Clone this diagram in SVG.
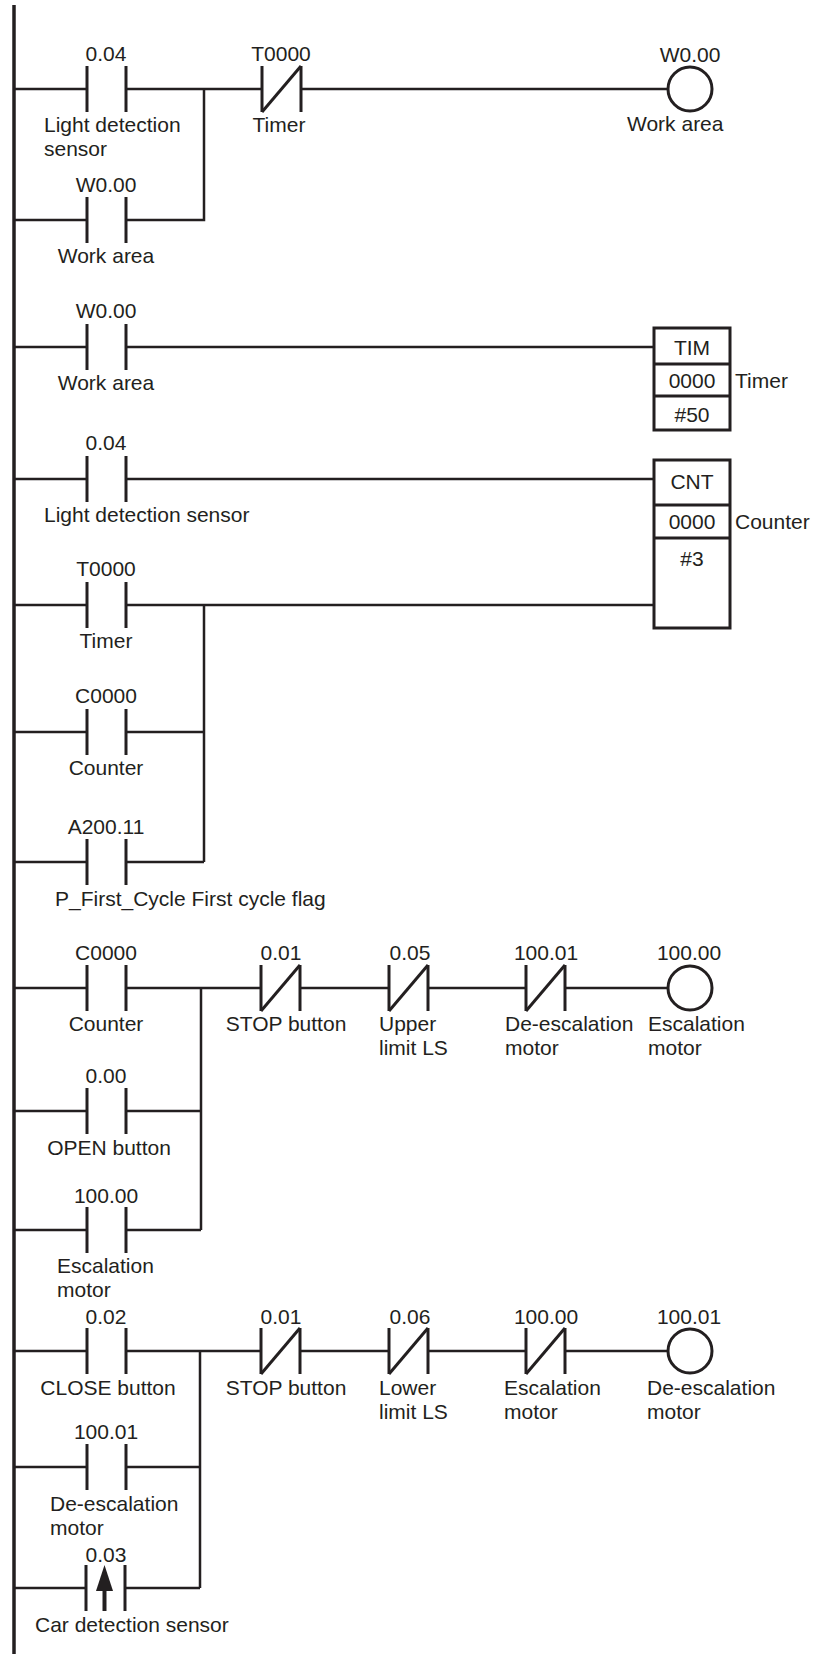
<svg xmlns="http://www.w3.org/2000/svg" width="814" height="1654" viewBox="0 0 814 1654">
<style>
.w{stroke:#231f20;stroke-width:2.5;fill:none}
.p{stroke:#231f20;stroke-width:3;fill:none}
.rail{stroke:#231f20;stroke-width:3.5;fill:none}
.coil{stroke:#231f20;stroke-width:3;fill:#fff}
.box{stroke:#231f20;stroke-width:3;fill:#fff}
text{font-family:"Liberation Sans",Arial,sans-serif;font-size:21px;fill:#231f20}
.c{text-anchor:middle}
</style>
<defs>
<g id="no"><line class="p" x1="0" y1="-23" x2="0" y2="23"/><line class="p" x1="39" y1="-23" x2="39" y2="23"/></g>
<g id="nc"><line class="p" x1="0" y1="-23" x2="0" y2="23"/><line class="p" x1="39" y1="-23" x2="39" y2="23"/><line class="p" x1="0" y1="23" x2="39" y2="-23"/></g>
</defs>
<rect width="814" height="1654" fill="#fff"/>
<g id="connectors">
<line class="rail" x1="14" y1="5" x2="14" y2="1654"/>
<path class="w" d="M14 89H87M126 89H262M301 89H668M14 220H87M126 220H204V89"/>
<path class="w" d="M14 347H87M126 347H654"/>
<path class="w" d="M14 479H87M126 479H654"/>
<path class="w" d="M14 605H87M126 605H654M14 732H87M126 732H204M14 862H87M126 862H204M204 605V862"/>
<path class="w" d="M14 988H87M126 988H261M300 988H389M428 988H526M565 988H668M14 1111H87M126 1111H201M14 1230H87M126 1230H201M201 988V1230"/>
<path class="w" d="M14 1351H87M126 1351H261M300 1351H389M428 1351H526M565 1351H668M14 1467H87M126 1467H200M14 1588H87M126 1588H200M200 1351V1588"/>
</g>
<g id="c004a"><use href="#no" x="87" y="89"/><text class="c" x="106" y="61">0.04</text><text x="44" y="132">Light detection</text><text x="44" y="156">sensor</text></g>
<g id="cw000a"><use href="#no" x="87" y="220"/><text class="c" x="106" y="192">W0.00</text><text class="c" x="106" y="263">Work area</text></g>
<g id="ct0000a"><use href="#nc" x="262" y="89"/><text class="c" x="281" y="61">T0000</text><text class="c" x="279" y="132">Timer</text></g>
<g id="coilw000"><circle class="coil" cx="690" cy="89" r="22"/><text class="c" x="690" y="62">W0.00</text><text x="627" y="131">Work area</text></g>
<g id="cw000b"><use href="#no" x="87" y="347"/><text class="c" x="106" y="318">W0.00</text><text class="c" x="106" y="390">Work area</text></g>
<g id="tim"><rect class="box" x="654" y="328" width="76" height="102"/><line class="p" x1="654" y1="364" x2="730" y2="364"/><line class="p" x1="654" y1="396" x2="730" y2="396"/><text class="c" x="692" y="355">TIM</text><text class="c" x="692" y="388">0000</text><text class="c" x="692" y="422">#50</text><text x="735" y="388">Timer</text></g>
<g id="c004b"><use href="#no" x="87" y="479"/><text class="c" x="106" y="450">0.04</text><text x="44" y="522">Light detection sensor</text></g>
<g id="cnt"><rect class="box" x="654" y="460" width="76" height="168"/><line class="p" x1="654" y1="505" x2="730" y2="505"/><line class="p" x1="654" y1="538" x2="730" y2="538"/><text class="c" x="692" y="489">CNT</text><text class="c" x="692" y="529">0000</text><text class="c" x="692" y="566">#3</text><text x="735" y="529">Counter</text></g>
<g id="ct0000b"><use href="#no" x="87" y="605"/><text class="c" x="106" y="576">T0000</text><text class="c" x="106" y="648">Timer</text></g>
<g id="cc0000a"><use href="#no" x="87" y="732"/><text class="c" x="106" y="703">C0000</text><text class="c" x="106" y="775">Counter</text></g>
<g id="ca20011"><use href="#no" x="87" y="862"/><text class="c" x="106" y="834">A200.11</text><text x="55" y="906">P_First_Cycle First cycle flag</text></g>
<g id="cc0000b"><use href="#no" x="87" y="988"/><text class="c" x="106" y="960">C0000</text><text class="c" x="106" y="1031">Counter</text></g>
<g id="c001a"><use href="#nc" x="261" y="988"/><text class="c" x="281" y="960">0.01</text><text class="c" x="286" y="1031">STOP button</text></g>
<g id="c005"><use href="#nc" x="389" y="988"/><text class="c" x="410" y="960">0.05</text><text x="379" y="1031">Upper</text><text x="379" y="1055">limit LS</text></g>
<g id="c10001a"><use href="#nc" x="526" y="988"/><text class="c" x="546" y="960">100.01</text><text x="505" y="1031">De-escalation</text><text x="505" y="1055">motor</text></g>
<g id="coil10000"><circle class="coil" cx="690" cy="988" r="22"/><text class="c" x="689" y="960">100.00</text><text x="648" y="1031">Escalation</text><text x="648" y="1055">motor</text></g>
<g id="c000"><use href="#no" x="87" y="1111"/><text class="c" x="106" y="1083">0.00</text><text class="c" x="109" y="1155">OPEN button</text></g>
<g id="c10000a"><use href="#no" x="87" y="1230"/><text class="c" x="106" y="1203">100.00</text><text x="57" y="1273">Escalation</text><text x="57" y="1297">motor</text></g>
<g id="c002"><use href="#no" x="87" y="1351"/><text class="c" x="106" y="1324">0.02</text><text class="c" x="108" y="1395">CLOSE button</text></g>
<g id="c001b"><use href="#nc" x="261" y="1351"/><text class="c" x="281" y="1324">0.01</text><text class="c" x="286" y="1395">STOP button</text></g>
<g id="c006"><use href="#nc" x="389" y="1351"/><text class="c" x="410" y="1324">0.06</text><text x="379" y="1395">Lower</text><text x="379" y="1419">limit LS</text></g>
<g id="c10000b"><use href="#nc" x="526" y="1351"/><text class="c" x="546" y="1324">100.00</text><text x="504" y="1395">Escalation</text><text x="504" y="1419">motor</text></g>
<g id="coil10001"><circle class="coil" cx="690" cy="1351" r="22"/><text class="c" x="689" y="1324">100.01</text><text x="647" y="1395">De-escalation</text><text x="647" y="1419">motor</text></g>
<g id="c10001b"><use href="#no" x="87" y="1467"/><text class="c" x="106" y="1439">100.01</text><text x="50" y="1511">De-escalation</text><text x="50" y="1535">motor</text></g>
<g id="c003"><use href="#no" x="86" y="1588"/><line x1="104.5" y1="1611" x2="104.5" y2="1585" stroke="#231f20" stroke-width="4"/><polygon points="104.5,1565 96,1591 113,1591" fill="#231f20"/><text class="c" x="106" y="1562">0.03</text><text x="35" y="1632">Car detection sensor</text></g>
</svg>
